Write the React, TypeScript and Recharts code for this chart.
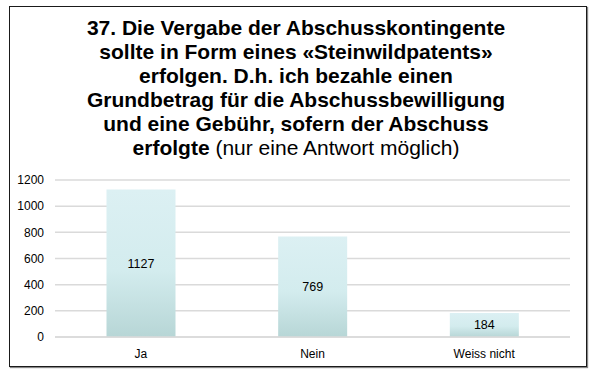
import { Bar, BarChart, CartesianGrid, LabelList, XAxis, YAxis } from "recharts";

const categories = ["Ja", "Nein", "Weiss nicht"];
const counts = [1127, 769, 184];
const yTicks = [0, 200, 400, 600, 800, 1000, 1200];

const data = categories.map((name, i) => ({ name, value: counts[i] }));

const font = "'Liberation Sans', Arial, Helvetica, sans-serif";

export default function App() {
  return (
    <div style={{ position: "absolute", left: 0, top: 0, width: 592, height: 372, background: "#fff", fontFamily: font }}>
      <div
        style={{
          position: "absolute",
          left: 9,
          top: 6,
          width: 578,
          height: 361,
          boxSizing: "border-box",
          border: "1px solid #1a1a1a",
          boxShadow: "1px 1px 1px #888",
        }}
      />
      <div
        style={{
          position: "absolute",
          left: 0,
          top: 16,
          width: 592,
          textAlign: "center",
          fontSize: 21,
          lineHeight: "24px",
          fontWeight: "bold",
          color: "#000",
        }}
      >
        37. Die Vergabe der Abschusskontingente
        <br />
        sollte in Form eines «Steinwildpatents»
        <br />
        erfolgen. D.h. ich bezahle einen
        <br />
        Grundbetrag für die Abschussbewilligung
        <br />
        und eine Gebühr, sofern der Abschuss
        <br />
        erfolgte <span style={{ fontWeight: "normal" }}>(nur eine Antwort möglich)</span>
      </div>
      <div style={{ position: "absolute", left: 0, top: 0 }}>
        <BarChart
          width={592}
          height={372}
          data={data}
          margin={{ top: 180, right: 22, bottom: 5, left: 0 }}
          barCategoryGap="30%"
        >
          <defs>
            <linearGradient id="barFill" x1="0" y1="0" x2="0" y2="1">
              <stop offset="0%" stopColor="#dcf0f3" />
              <stop offset="55%" stopColor="#d3ecee" />
              <stop offset="100%" stopColor="#b7d6d6" />
            </linearGradient>
          </defs>
          <CartesianGrid vertical={false} stroke="#dadada" strokeWidth={1.5} />
          <XAxis
            dataKey="name"
            height={30}
            tickLine={false}
            tickMargin={6}
            axisLine={{ stroke: "#dadada", strokeWidth: 1.5 }}
            tick={{ fill: "#000", fontSize: 12, fontFamily: font }}
          />
          <YAxis
            width={55}
            domain={[0, 1200]}
            ticks={yTicks}
            interval={0}
            tickLine={false}
            axisLine={false}
            tickMargin={5}
            tick={{ fill: "#000", fontSize: 12, fontFamily: font }}
          />
          <Bar dataKey="value" fill="url(#barFill)" isAnimationActive={false}>
            <LabelList dataKey="value" position="center" fill="#000" fontSize={12.5} fontFamily={font} />
          </Bar>
        </BarChart>
      </div>
    </div>
  );
}
